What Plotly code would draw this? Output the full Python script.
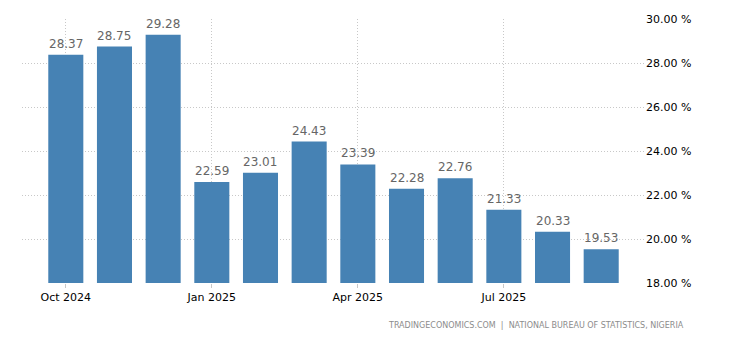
import plotly.graph_objects as go

# Nigeria inflation rate, monthly (%)
months = ["Oct 2024", "Nov 2024", "Dec 2024", "Jan 2025", "Feb 2025", "Mar 2025",
          "Apr 2025", "May 2025", "Jun 2025", "Jul 2025", "Aug 2025", "Sep 2025"]
values = [28.37, 28.75, 29.28, 22.59, 23.01, 24.43, 23.39, 22.28, 22.76, 21.33, 20.33, 19.53]
tick_months = ["Oct 2024", "Jan 2025", "Apr 2025", "Jul 2025"]
y_ticks = [18, 20, 22, 24, 26, 28, 30]
source = "TRADINGECONOMICS.COM  |  NATIONAL BUREAU OF STATISTICS, NIGERIA"

BAR = "#4682b4"
GRID = "#c8c8c8"
DOTS = "1px,2px"
FONT = "DejaVu Sans"

fig = go.Figure(go.Bar(x=months, y=values, marker_color=BAR, marker_line_width=0,
                       hoverinfo="x+y"))

# value labels above each bar
for m, v in zip(months, values):
    fig.add_annotation(x=m, y=v, text=f"{v:.2f}", showarrow=False,
                       yanchor="bottom", yshift=2,
                       font=dict(family=FONT, size=12, color="#666666"))

fig.add_annotation(xref="paper", yref="paper", x=1.066, y=-0.135,
                   xanchor="right", yanchor="top", showarrow=False,
                   text=source, font=dict(family=FONT, size=8, color="#8c8c8c"))

fig.update_layout(
    width=730, height=340,
    margin=dict(l=22, r=85, t=19, b=57),
    plot_bgcolor="white", paper_bgcolor="white",
    bargap=0.28, showlegend=False,
    font=dict(family=FONT, size=11, color="#000000"),
    xaxis=dict(
        type="category", range=[-0.9, 11.9],
        tickmode="array", tickvals=tick_months, ticktext=tick_months,
        showgrid=True, gridcolor=GRID, griddash=DOTS, gridwidth=1,
        ticks="outside", ticklen=4, tickcolor=GRID,
        showline=False, zeroline=False,
        tickfont=dict(family=FONT, size=11, color="#000000"),
    ),
    yaxis=dict(
        side="right", range=[18, 30],
        tickmode="array", tickvals=y_ticks,
        ticktext=[f"{t:.2f} %" for t in y_ticks],
        showgrid=True, gridcolor=GRID, griddash=DOTS, gridwidth=1,
        ticks="", zeroline=False, showline=False,
        tickfont=dict(family=FONT, size=11, color="#000000"),
    ),
)

fig.write_html("out.html")
